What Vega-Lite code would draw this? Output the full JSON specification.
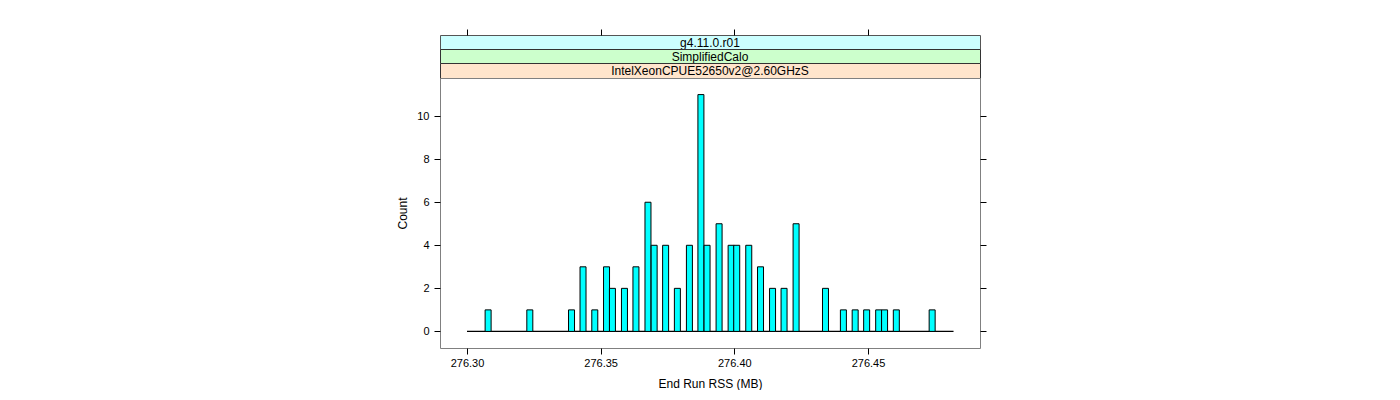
{
  "$schema": "https://vega.github.io/schema/vega-lite/v6.json",
  "padding": {"left": 396, "top": 28, "right": 0, "bottom": 0},
  "background": "white",
  "spacing": 0,
  "bounds": "flush",
  "config": {
    "font": "Liberation Sans",
    "view": {"stroke": null},
    "concat": {"spacing": 0},
    "axis": {
      "labelFont": "Liberation Sans", "titleFont": "Liberation Sans",
      "labelFontSize": 11, "titleFontSize": 12, "titleFontWeight": "normal",
      "labelColor": "black", "titleColor": "black", "tickColor": "black",
      "grid": false
    }
  },
  "datasets": {
    "rss": [
      {"rss": 276.3079, "count": 1}, {"rss": 276.3235, "count": 1}, {"rss": 276.3391, "count": 1},
      {"rss": 276.3434, "count": 3}, {"rss": 276.3478, "count": 1}, {"rss": 276.3522, "count": 3},
      {"rss": 276.3544, "count": 2}, {"rss": 276.3589, "count": 2}, {"rss": 276.3632, "count": 3},
      {"rss": 276.3677, "count": 6}, {"rss": 276.3700, "count": 4}, {"rss": 276.3743, "count": 4},
      {"rss": 276.3787, "count": 2}, {"rss": 276.3832, "count": 4}, {"rss": 276.3875, "count": 11},
      {"rss": 276.3898, "count": 4}, {"rss": 276.3943, "count": 5}, {"rss": 276.3988, "count": 4},
      {"rss": 276.4009, "count": 4}, {"rss": 276.4054, "count": 4}, {"rss": 276.4098, "count": 3},
      {"rss": 276.4143, "count": 2}, {"rss": 276.4186, "count": 2}, {"rss": 276.4231, "count": 5},
      {"rss": 276.4341, "count": 2}, {"rss": 276.4408, "count": 1}, {"rss": 276.4452, "count": 1},
      {"rss": 276.4495, "count": 1}, {"rss": 276.4540, "count": 1}, {"rss": 276.4562, "count": 1},
      {"rss": 276.4606, "count": 1}, {"rss": 276.4740, "count": 1}
    ],
    "baseline": [{"start": 276.30, "end": 276.482, "level": 0}],
    "strips": [
      {"level": 3, "label": "g4.11.0.r01"},
      {"level": 2, "label": "SimplifiedCalo"},
      {"level": 1, "label": "IntelXeonCPUE52650v2@2.60GHzS"}
    ]
  },
  "vconcat": [
    {
      "width": 540, "height": 14,
      "view": {"fill": "#ccffff", "stroke": "#555555"},
      "layer": [
        {
          "data": {"name": "rss"},
          "mark": {"type": "point", "opacity": 0},
          "encoding": {
            "x": {"field": "rss", "type": "quantitative",
              "scale": {"domain": [276.2899, 276.4919], "nice": false, "zero": false, "padding": 0},
              "axis": {"orient": "top", "labels": false, "domain": false, "tickSize": 6,
                "values": [276.30, 276.35, 276.40, 276.45], "title": null}}
          }
        },
        {
          "data": {"name": "strips"},
          "transform": [{"filter": "datum.level == 3"}],
          "mark": {"type": "text", "fontSize": 12, "font": "Liberation Sans", "color": "black", "dy": 0.5},
          "encoding": {"text": {"field": "label", "type": "nominal"}}
        }
      ]
    },
    {
      "width": 540, "height": 14,
      "view": {"fill": "#ccffcc", "stroke": "#333333"},
      "data": {"name": "strips"},
      "transform": [{"filter": "datum.level == 2"}],
      "mark": {"type": "text", "fontSize": 12, "font": "Liberation Sans", "color": "black", "dy": 0.5},
      "encoding": {"text": {"field": "label", "type": "nominal"}}
    },
    {
      "width": 540, "height": 15,
      "view": {"fill": "#ffe5cc", "stroke": "#333333"},
      "data": {"name": "strips"},
      "transform": [{"filter": "datum.level == 1"}],
      "mark": {"type": "text", "fontSize": 12, "font": "Liberation Sans", "color": "black", "dy": 0.5},
      "encoding": {"text": {"field": "label", "type": "nominal"}}
    },
    {
      "width": 540, "height": 270,
      "view": {"stroke": "#808080"},
      "layer": [
        {
          "data": {"name": "baseline"},
          "mark": {"type": "rule", "color": "black", "strokeWidth": 1.2},
          "encoding": {
            "x": {"field": "start", "type": "quantitative",
              "scale": {"domain": [276.2899, 276.4919], "nice": false, "zero": false, "padding": 0},
              "axis": {"values": [276.30, 276.35, 276.40, 276.45], "format": ".2f", "tickSize": 6,
                "labelPadding": 3, "domain": false, "title": "End Run RSS (MB)", "titlePadding": 10}},
            "x2": {"field": "end"},
            "y": {"field": "level", "type": "quantitative",
              "scale": {"domain": [-0.77, 11.77], "nice": false, "zero": false, "padding": 0}, "axis": null}
          }
        },
        {
          "data": {"name": "rss"},
          "mark": {"type": "bar", "size": 6, "fill": "#00ffff", "stroke": "black", "strokeWidth": 1},
          "encoding": {
            "x": {"field": "rss", "type": "quantitative",
              "scale": {"domain": [276.2899, 276.4919], "nice": false, "zero": false, "padding": 0},
              "axis": {"values": [276.30, 276.35, 276.40, 276.45], "format": ".2f", "tickSize": 6,
                "labelPadding": 3, "domain": false, "title": "End Run RSS (MB)", "titlePadding": 10}},
            "y": {"field": "count", "type": "quantitative",
              "scale": {"domain": [-0.77, 11.77], "nice": false, "zero": false, "padding": 0},
              "axis": {"values": [0, 2, 4, 6, 8, 10], "tickSize": 6, "labelPadding": 5, "domain": false,
                "title": "Count", "titlePadding": 7}}
          }
        },
        {
          "data": {"name": "rss"},
          "mark": {"type": "tick", "opacity": 0},
          "encoding": {
            "y": {"field": "count", "type": "quantitative",
              "axis": {"orient": "right", "values": [0, 2, 4, 6, 8, 10], "tickSize": 6, "labels": false,
                "domain": false, "title": null}}
          }
        }
      ],
      "resolve": {"axis": {"y": "independent"}}
    }
  ]
}
